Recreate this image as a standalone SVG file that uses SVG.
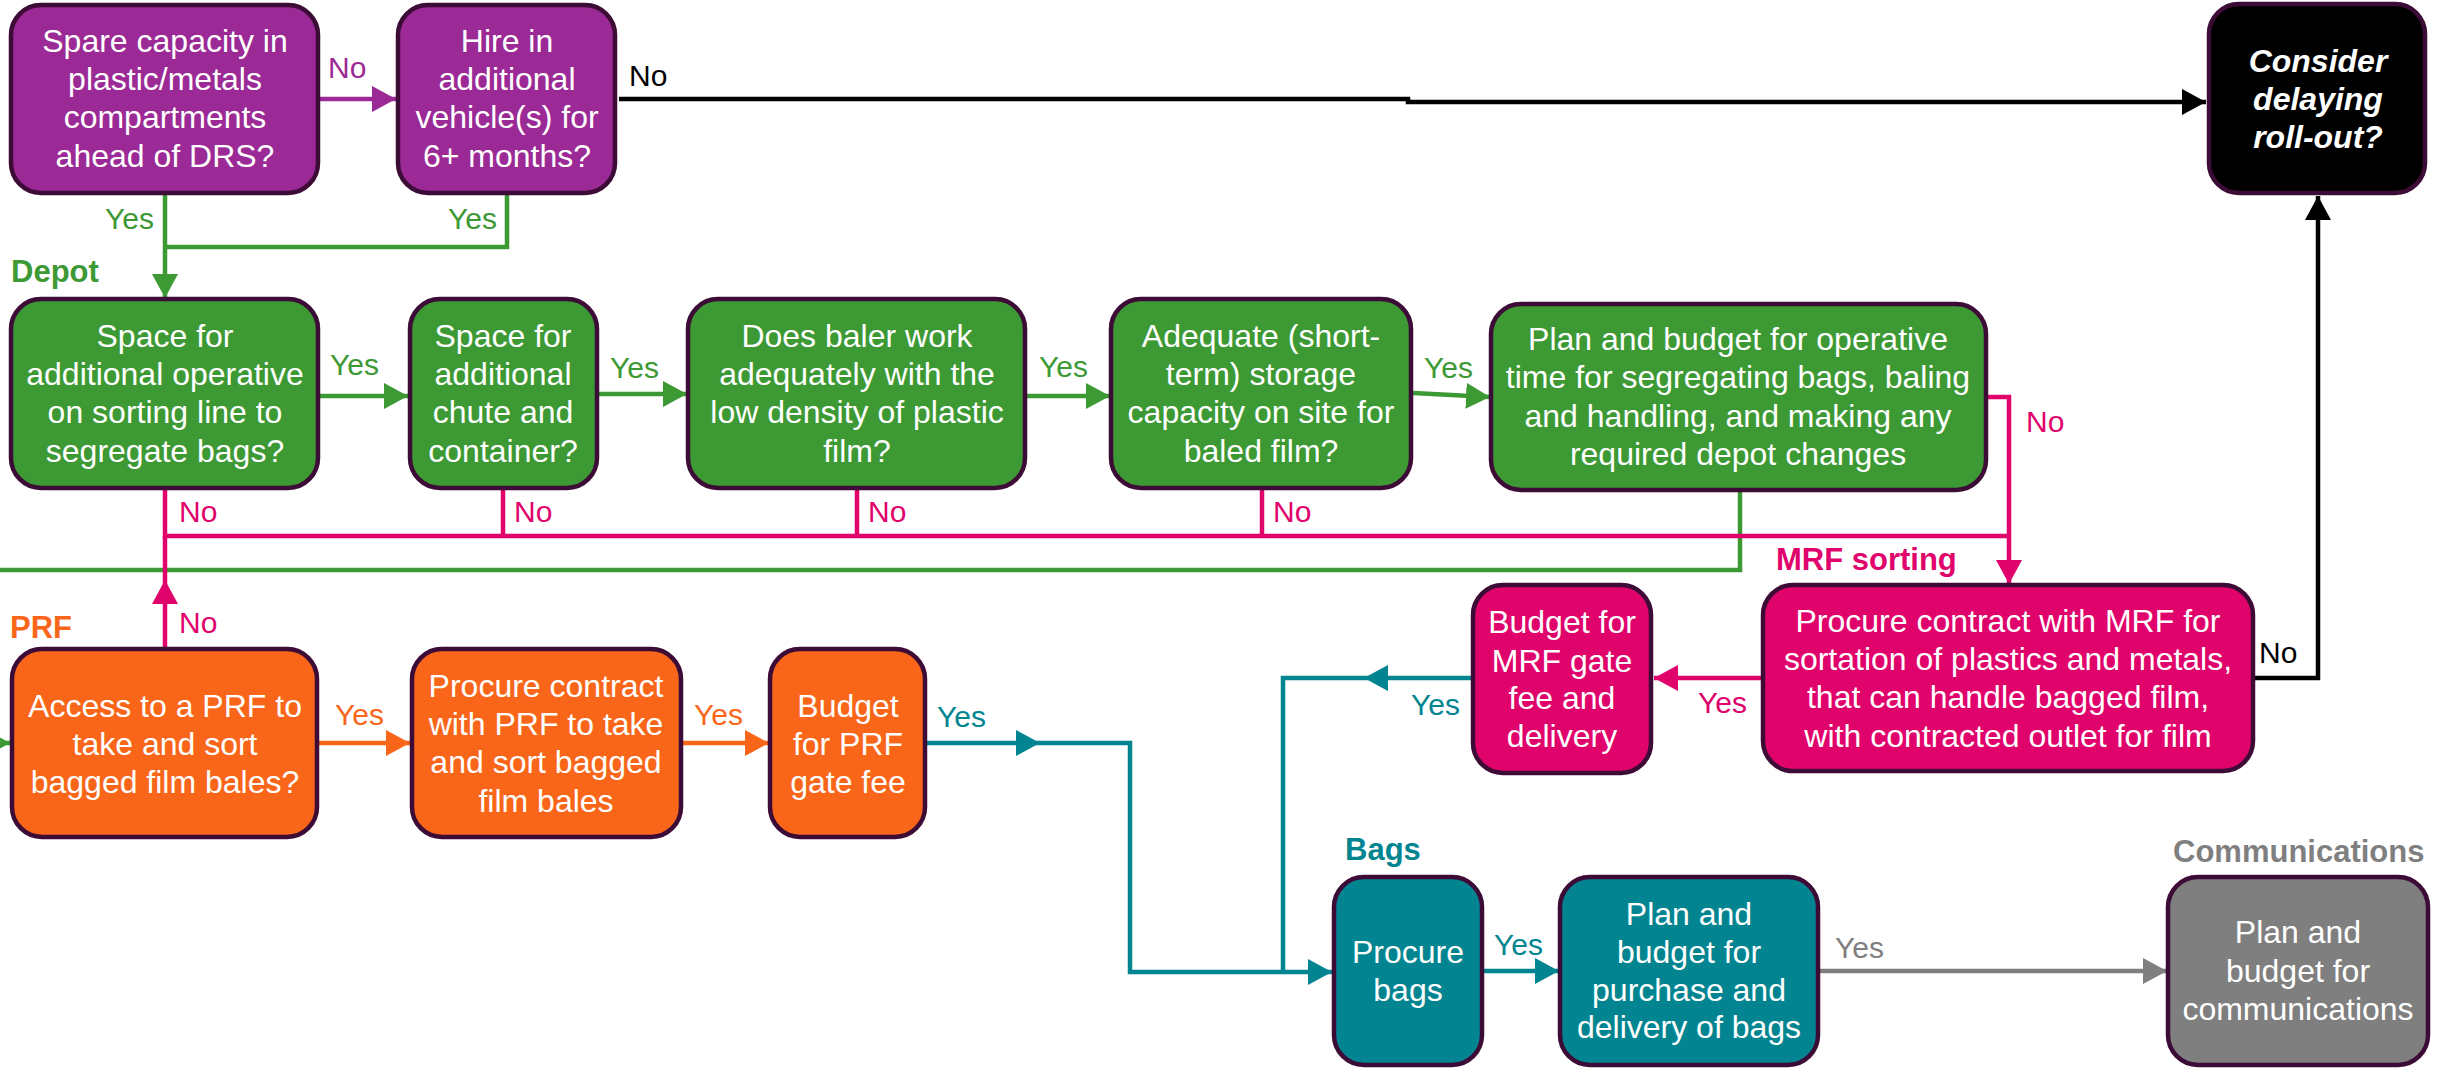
<svg xmlns="http://www.w3.org/2000/svg" width="2440" height="1070" viewBox="0 0 2440 1070">
<style>
.box{stroke:#3c0b36;stroke-width:4.5}
.t{font-family:"Liberation Sans",Arial,sans-serif;font-size:32px;fill:#fff;text-anchor:middle}
.ti{font-family:"Liberation Sans",Arial,sans-serif;font-size:32px;fill:#fff;text-anchor:middle;font-weight:bold;font-style:italic}
.lb{font-family:"Liberation Sans",Arial,sans-serif;font-size:30px}
.sec{font-family:"Liberation Sans",Arial,sans-serif;font-size:31px;font-weight:bold}
.c{fill:none;stroke-width:4.5}
.purple{fill:#9b2a96}.green{fill:#3d9934}.mag{fill:#e0036c}.orange{fill:#f9661a}.teal{fill:#038591}.gray{fill:#7f7f7f}.black{fill:#000}
</style>
<defs>
<marker id="aP" markerUnits="userSpaceOnUse" markerWidth="26" markerHeight="28" refX="24" refY="13" orient="auto"><path d="M0,0 L24,13 L0,26 z" fill="#9b2a96"/></marker>
<marker id="aG" markerUnits="userSpaceOnUse" markerWidth="26" markerHeight="28" refX="24" refY="13" orient="auto"><path d="M0,0 L24,13 L0,26 z" fill="#3d9934"/></marker>
<marker id="aM" markerUnits="userSpaceOnUse" markerWidth="26" markerHeight="28" refX="24" refY="13" orient="auto"><path d="M0,0 L24,13 L0,26 z" fill="#e0036c"/></marker>
<marker id="aO" markerUnits="userSpaceOnUse" markerWidth="26" markerHeight="28" refX="24" refY="13" orient="auto"><path d="M0,0 L24,13 L0,26 z" fill="#f9661a"/></marker>
<marker id="aT" markerUnits="userSpaceOnUse" markerWidth="26" markerHeight="28" refX="24" refY="13" orient="auto"><path d="M0,0 L24,13 L0,26 z" fill="#038591"/></marker>
<marker id="aY" markerUnits="userSpaceOnUse" markerWidth="26" markerHeight="28" refX="24" refY="13" orient="auto"><path d="M0,0 L24,13 L0,26 z" fill="#7f7f7f"/></marker>
<marker id="aK" markerUnits="userSpaceOnUse" markerWidth="26" markerHeight="28" refX="24" refY="13" orient="auto"><path d="M0,0 L24,13 L0,26 z" fill="#000"/></marker>
</defs>
<rect width="2440" height="1070" fill="#fff"/>

<g id="connectors">
  <path class="c" stroke="#9b2a96" d="M320 99 H396" marker-end="url(#aP)"/>
  <path class="c" stroke="#000" d="M619 99 H1408 V102 H2206" marker-end="url(#aK)"/>
  <path class="c" stroke="#000" d="M2255 678 H2318 V196" marker-end="url(#aK)"/>
  <path class="c" stroke="#3d9934" d="M165 195 V298" marker-end="url(#aG)"/>
  <path class="c" stroke="#3d9934" d="M507 195 V247 H165"/>
  <path class="c" stroke="#3d9934" d="M320 396 H408" marker-end="url(#aG)"/>
  <path class="c" stroke="#3d9934" d="M599 394 H687" marker-end="url(#aG)"/>
  <path class="c" stroke="#3d9934" d="M1027 396 H1110" marker-end="url(#aG)"/>
  <path class="c" stroke="#3d9934" d="M1413 393 L1490 397" marker-end="url(#aG)"/>
  <path class="c" stroke="#3d9934" d="M1740 492 V570 H-20"/>
  <path class="c" stroke="#3d9934" d="M-30 743 H10" marker-end="url(#aG)"/>
  <path class="c" stroke="#e0036c" d="M165 490 V536 H2009"/>
  <path class="c" stroke="#e0036c" d="M503 490 V536"/>
  <path class="c" stroke="#e0036c" d="M857 490 V536"/>
  <path class="c" stroke="#e0036c" d="M1262 490 V536"/>
  <path class="c" stroke="#e0036c" d="M1988 397 H2009 V584" marker-end="url(#aM)"/>
  <path class="c" stroke="#e0036c" d="M165 647 V580" marker-end="url(#aM)"/>
  <path class="c" stroke="#e0036c" d="M165 580 V536"/>
  <path class="c" stroke="#e0036c" d="M1761 678 H1654" marker-end="url(#aM)"/>
  <path class="c" stroke="#f9661a" d="M319 743 H410" marker-end="url(#aO)"/>
  <path class="c" stroke="#f9661a" d="M683 743 H769" marker-end="url(#aO)"/>
  <path class="c" stroke="#038591" d="M927 743 H1040" marker-end="url(#aT)"/>
  <path class="c" stroke="#038591" d="M1040 743 H1130 V972 H1332" marker-end="url(#aT)"/>
  <path class="c" stroke="#038591" d="M1471 678 H1364" marker-end="url(#aT)"/>
  <path class="c" stroke="#038591" d="M1364 678 H1283 V972"/>
  <path class="c" stroke="#038591" d="M1484 971 H1559" marker-end="url(#aT)"/>
  <path class="c" stroke="#7f7f7f" d="M1820 971 H2167" marker-end="url(#aY)"/>
</g>

<g id="edge-labels">
  <text class="lb purple" x="328" y="78">No</text>
  <text class="lb black" x="629" y="86">No</text>
  <text class="lb green" x="105" y="229">Yes</text>
  <text class="lb green" x="448" y="229">Yes</text>
  <text class="lb green" x="330" y="375">Yes</text>
  <text class="lb green" x="610" y="378">Yes</text>
  <text class="lb green" x="1039" y="377">Yes</text>
  <text class="lb green" x="1424" y="378">Yes</text>
  <text class="lb mag" x="179" y="522">No</text>
  <text class="lb mag" x="514" y="522">No</text>
  <text class="lb mag" x="868" y="522">No</text>
  <text class="lb mag" x="1273" y="522">No</text>
  <text class="lb mag" x="2026" y="432">No</text>
  <text class="lb mag" x="179" y="633">No</text>
  <text class="lb black" x="2259" y="663">No</text>
  <text class="lb mag" x="1698" y="713">Yes</text>
  <text class="lb teal" x="1411" y="715">Yes</text>
  <text class="lb orange" x="335" y="725">Yes</text>
  <text class="lb orange" x="694" y="725">Yes</text>
  <text class="lb teal" x="937" y="727">Yes</text>
  <text class="lb teal" x="1494" y="955">Yes</text>
  <text class="lb gray" x="1835" y="958">Yes</text>
</g>

<g id="section-labels">
  <text class="sec green" x="11" y="282">Depot</text>
  <text class="sec mag" x="1776" y="570">MRF sorting</text>
  <text class="sec orange" x="10" y="638">PRF</text>
  <text class="sec teal" x="1345" y="860">Bags</text>
  <text class="sec gray" x="2173" y="862">Communications</text>
</g>

<g id="spare-capacity">
  <rect class="box" x="11" y="5" width="307" height="188" rx="30" fill="#9b2a96"/>
  <text class="t" x="165" y="52">Spare capacity in</text>
  <text class="t" x="165" y="90">plastic/metals</text>
  <text class="t" x="165" y="128">compartments</text>
  <text class="t" x="165" y="167">ahead of DRS?</text>
</g>
<g id="hire-vehicles">
  <rect class="box" x="398" y="5" width="217" height="188" rx="30" fill="#9b2a96"/>
  <text class="t" x="507" y="52">Hire in</text>
  <text class="t" x="507" y="90">additional</text>
  <text class="t" x="507" y="128">vehicle(s) for</text>
  <text class="t" x="507" y="167">6+ months?</text>
</g>
<g id="consider-delay">
  <rect class="box" x="2209" y="4" width="216" height="189" rx="30" fill="#000"/>
  <text class="ti" x="2318" y="72">Consider</text>
  <text class="ti" x="2318" y="110">delaying</text>
  <text class="ti" x="2318" y="148">roll-out?</text>
</g>
<g id="depot-operative">
  <rect class="box" x="11" y="299" width="307" height="189" rx="30" fill="#3d9934"/>
  <text class="t" x="165" y="347">Space for</text>
  <text class="t" x="165" y="385">additional operative</text>
  <text class="t" x="165" y="423">on sorting line to</text>
  <text class="t" x="165" y="462">segregate bags?</text>
</g>
<g id="depot-chute">
  <rect class="box" x="410" y="299" width="187" height="189" rx="30" fill="#3d9934"/>
  <text class="t" x="503" y="347">Space for</text>
  <text class="t" x="503" y="385">additional</text>
  <text class="t" x="503" y="423">chute and</text>
  <text class="t" x="503" y="462">container?</text>
</g>
<g id="depot-baler">
  <rect class="box" x="688" y="299" width="337" height="189" rx="30" fill="#3d9934"/>
  <text class="t" x="857" y="347">Does baler work</text>
  <text class="t" x="857" y="385">adequately with the</text>
  <text class="t" x="857" y="423">low density of plastic</text>
  <text class="t" x="857" y="462">film?</text>
</g>
<g id="depot-storage">
  <rect class="box" x="1111" y="299" width="300" height="189" rx="30" fill="#3d9934"/>
  <text class="t" x="1261" y="347">Adequate (short-</text>
  <text class="t" x="1261" y="385">term) storage</text>
  <text class="t" x="1261" y="423">capacity on site for</text>
  <text class="t" x="1261" y="462">baled film?</text>
</g>
<g id="depot-plan">
  <rect class="box" x="1491" y="304" width="495" height="186" rx="30" fill="#3d9934"/>
  <text class="t" x="1738" y="350">Plan and budget for operative</text>
  <text class="t" x="1738" y="388">time for segregating bags, baling</text>
  <text class="t" x="1738" y="427">and handling, and making any</text>
  <text class="t" x="1738" y="465">required depot changes</text>
</g>
<g id="mrf-contract">
  <rect class="box" x="1763" y="585" width="490" height="186" rx="30" fill="#e0036c"/>
  <text class="t" x="2008" y="632">Procure contract with MRF for</text>
  <text class="t" x="2008" y="670">sortation of plastics and metals,</text>
  <text class="t" x="2008" y="708">that can handle bagged film,</text>
  <text class="t" x="2008" y="747">with contracted outlet for film</text>
</g>
<g id="mrf-budget">
  <rect class="box" x="1473" y="585" width="178" height="188" rx="30" fill="#e0036c"/>
  <text class="t" x="1562" y="633">Budget for</text>
  <text class="t" x="1562" y="672">MRF gate</text>
  <text class="t" x="1562" y="709">fee and</text>
  <text class="t" x="1562" y="747">delivery</text>
</g>
<g id="prf-access">
  <rect class="box" x="12" y="649" width="305" height="188" rx="30" fill="#f9661a"/>
  <text class="t" x="165" y="717">Access to a PRF to</text>
  <text class="t" x="165" y="755">take and sort</text>
  <text class="t" x="165" y="793">bagged film bales?</text>
</g>
<g id="prf-contract">
  <rect class="box" x="412" y="649" width="269" height="188" rx="30" fill="#f9661a"/>
  <text class="t" x="546" y="697">Procure contract</text>
  <text class="t" x="546" y="735">with PRF to take</text>
  <text class="t" x="546" y="773">and sort bagged</text>
  <text class="t" x="546" y="812">film bales</text>
</g>
<g id="prf-budget">
  <rect class="box" x="770" y="649" width="155" height="188" rx="30" fill="#f9661a"/>
  <text class="t" x="848" y="717">Budget</text>
  <text class="t" x="848" y="755">for PRF</text>
  <text class="t" x="848" y="793">gate fee</text>
</g>
<g id="bags-procure">
  <rect class="box" x="1334" y="877" width="148" height="188" rx="30" fill="#038591"/>
  <text class="t" x="1408" y="963">Procure</text>
  <text class="t" x="1408" y="1001">bags</text>
</g>
<g id="bags-plan">
  <rect class="box" x="1560" y="877" width="258" height="188" rx="30" fill="#038591"/>
  <text class="t" x="1689" y="925">Plan and</text>
  <text class="t" x="1689" y="963">budget for</text>
  <text class="t" x="1689" y="1001">purchase and</text>
  <text class="t" x="1689" y="1038">delivery of bags</text>
</g>
<g id="communications">
  <rect class="box" x="2168" y="877" width="260" height="188" rx="30" fill="#7f7f7f"/>
  <text class="t" x="2298" y="943">Plan and</text>
  <text class="t" x="2298" y="982">budget for</text>
  <text class="t" x="2298" y="1020">communications</text>
</g>
</svg>
